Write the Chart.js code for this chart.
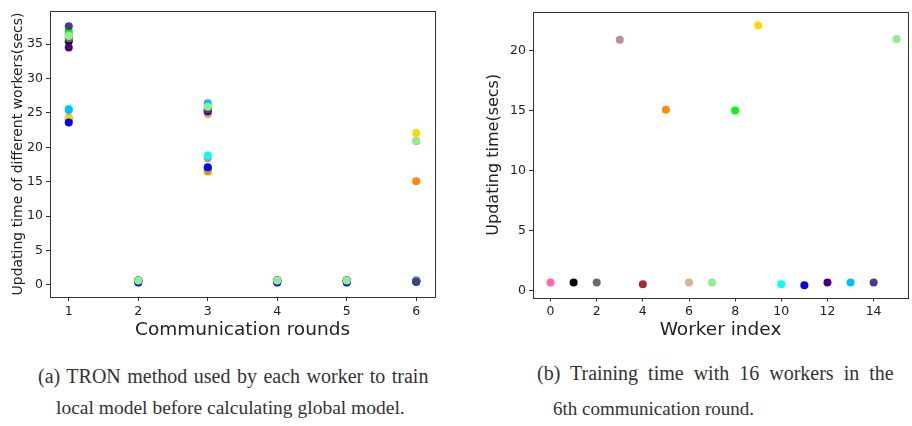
<!DOCTYPE html>
<html>
<head>
<meta charset="utf-8">
<script src="https://cdn.jsdelivr.net/npm/chart.js@4.4.1/dist/chart.umd.min.js"></script>
<style>
  body { margin: 0; width: 912px; height: 426px; background: #fff; position: relative; overflow: hidden; }
  .plot { position: absolute; top: 0; height: 345px; }
  #leftWrap { left: 0; width: 440px; }
  #rightWrap { left: 480px; width: 432px; }
  .cap { position: absolute; font-family: "Liberation Serif", serif; font-size: 20px; color: #333; white-space: nowrap; }
</style>
</head>
<body>
<div class="plot" id="leftWrap"><canvas id="leftChart" width="440" height="345"></canvas></div>
<div class="plot" id="rightWrap"><canvas id="rightChart" width="432" height="345"></canvas></div>
<div class="cap" style="left:38px; top:365px; word-spacing:1.5px;">(a) TRON method used by each worker to train</div>
<div class="cap" style="left:56px; top:397px; font-size:19.5px;">local model before calculating global model.</div>
<div class="cap" style="left:537px; top:362px; word-spacing:5px;">(b) Training time with 16 workers in the</div>
<div class="cap" style="left:553px; top:398px; font-size:19px;">6th communication round.</div>
<script>
// worker colours (index 0..15)
const workerColors = ['#ff69b4', '#000000', '#696969', '#bc8f8f', '#a52a2a', '#ff8c00', '#d2b48c', '#90ee90',
  '#00ff00', '#ffd700', '#00ffff', '#0000ff', '#4b0082', '#00bfff', '#483d8b', '#90ee90'];

// left chart: rounds 1..6, one row per worker
const rounds = [1, 2, 3, 4, 5, 6];
const w0 = [36.0, 0.60, 25.5, 0.60, 0.60, 0.67];
const w1 = [35.4, 0.60, 25.3, 0.60, 0.60, 0.67];
const w2 = [35.8, 0.60, 25.0, 0.60, 0.60, 0.67];
const w3 = [36.5, 0.60, 18.4, 0.60, 0.60, 20.9];
const w4 = [24.0, 0.50, 16.8, 0.50, 0.50, 0.53];
const w5 = [24.3, 0.60, 16.5, 0.60, 0.60, 15.06];
const w6 = [36.2, 0.60, 24.8, 0.60, 0.60, 0.67];
const w7 = [36.3, 0.60, 25.6, 0.60, 0.60, 0.67];
const w8 = [36.9, 0.50, 17.0, 0.50, 0.50, 0.50];
const w9 = [24.2, 0.60, 25.2, 0.60, 0.60, 22.08];
const w10 = [25.6, 0.50, 18.8, 0.50, 0.50, 0.53];
const w11 = [23.6, 0.36, 17.1, 0.36, 0.36, 0.45];
const w12 = [34.5, 0.63, 25.2, 0.63, 0.63, 0.50];
const w13 = [25.4, 0.63, 26.4, 0.63, 0.63, 0.50];
const w14 = [37.6, 0.63, 25.5, 0.63, 0.63, 0.47];
const w15 = [36.2, 0.63, 25.9, 0.63, 0.63, 20.95];
const leftSeries = [w0, w1, w2, w3, w4, w5, w6, w7, w8, w9, w10, w11, w12, w13, w14, w15];
const leftXTicks = [1, 2, 3, 4, 5, 6];
const leftYTicks = [0, 5, 10, 15, 20, 25, 30, 35];

// right chart: 6th round, per worker
const workerIdx = [0, 1, 2, 3, 4, 5, 6, 7, 8, 9, 10, 11, 12, 13, 14, 15];
const round6Times = [0.67, 0.67, 0.67, 20.9, 0.53, 15.06, 0.67, 0.67, 15.0, 22.08, 0.53, 0.45, 0.67, 0.67, 0.67, 20.95];
const rightXTicks = [0, 2, 4, 6, 8, 10, 12, 14];
const rightYTicks = [0, 5, 10, 15, 20];

const AXIS = '#333';
const FONT = 'DejaVu Sans';

// full box round the plot, like matplotlib spines
const frame = {
  id: 'frame',
  afterDraw(chart) {
    const a = chart.chartArea, ctx = chart.ctx;
    ctx.save();
    ctx.strokeStyle = AXIS;
    ctx.lineWidth = 1;
    ctx.strokeRect(Math.round(a.left) + 0.5, Math.round(a.top) + 0.5, Math.round(a.right - a.left), Math.round(a.bottom - a.top));
    ctx.restore();
  }
};

function axis(opts) {
  return {
    type: 'linear',
    min: opts.min,
    max: opts.max,
    afterBuildTicks: s => { s.ticks = opts.ticks.map(v => ({ value: v })); },
    afterFit: opts.fit,
    border: { display: false },
    grid: { drawOnChartArea: false, drawTicks: true, tickLength: 4, tickColor: AXIS, color: AXIS },
    ticks: { color: '#222', font: { family: FONT, size: 12.5 }, padding: 3, maxRotation: 0, autoSkip: false },
    title: { display: true, text: opts.title, color: '#222', font: { family: FONT, size: opts.tsize }, padding: opts.tpad }
  };
}

const leftDatasets = leftSeries.map((vals, i) => ({
  data: vals.map((v, j) => ({ x: rounds[j], y: v })),
  backgroundColor: workerColors[i],
  borderWidth: 0,
  pointRadius: 4,
  pointHoverRadius: 4,
  order: leftSeries.length - i
}));

new Chart(document.getElementById('leftChart'), {
  type: 'scatter',
  data: { datasets: leftDatasets },
  options: {
    responsive: false,
    animation: false,
    layout: { padding: { top: 11, right: 5, left: 0, bottom: 0 } },
    plugins: { legend: { display: false }, tooltip: { enabled: false } },
    scales: {
      x: axis({ min: 0.73, max: 6.27, ticks: leftXTicks, title: 'Communication rounds', tsize: 18.5, tpad: { top: 6 },
        fit: s => { s.height = 48; } }),
      y: axis({ min: -1.75, max: 39.8, ticks: leftYTicks, title: 'Updating time of different workers(secs)', tsize: 14, tpad: { top: 10, bottom: 2 },
        fit: s => { s.width = 50; } })
    }
  },
  plugins: [frame]
});

new Chart(document.getElementById('rightChart'), {
  type: 'scatter',
  data: {
    datasets: [{
      data: workerIdx.map((w, i) => ({ x: w, y: round6Times[i] })),
      backgroundColor: workerColors,
      borderWidth: 0,
      pointRadius: 4,
      pointHoverRadius: 4
    }]
  },
  options: {
    responsive: false,
    animation: false,
    layout: { padding: { top: 12, right: 2, left: 0, bottom: 0 } },
    plugins: { legend: { display: false }, tooltip: { enabled: false } },
    scales: {
      x: axis({ min: -0.76, max: 15.49, ticks: rightXTicks, title: 'Worker index', tsize: 18.5, tpad: { top: 6 },
        fit: s => { s.height = 47.5; } }),
      y: axis({ min: -0.57, max: 23.2, ticks: rightYTicks, title: 'Updating time(secs)', tsize: 16, tpad: { top: 4, bottom: 4 },
        fit: s => { s.width = 53; } })
    }
  },
  plugins: [frame]
});
</script>
</body>
</html>
